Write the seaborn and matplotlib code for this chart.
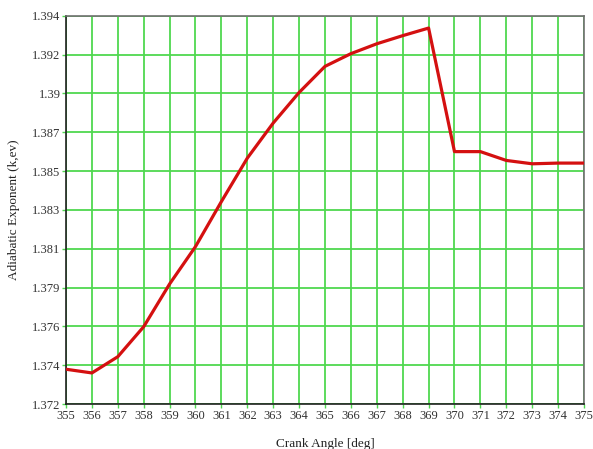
import matplotlib
matplotlib.use("Agg")
import matplotlib.pyplot as plt
import numpy as np
import pandas as pd
import seaborn as sns

# Crank angle samples and adiabatic exponent values
crank_angle = [355, 356, 357, 358, 359, 360, 361, 362, 363, 364, 365,
               366, 367, 368, 369, 370, 371, 372, 373, 374, 375]
kappa = [1.37397, 1.37376, 1.37468, 1.37638, 1.37880, 1.38092, 1.38347,
         1.38593, 1.38792, 1.38965, 1.39113, 1.39185, 1.39241, 1.39287,
         1.39330, 1.38630, 1.38630, 1.38580, 1.38561, 1.38565, 1.38565]

# Axis ticks
x_ticks = list(range(355, 376))
y_min, y_max = 1.372, 1.394
y_tick_labels = ["1.372", "1.374", "1.376", "1.379", "1.381", "1.383",
                 "1.385", "1.387", "1.39", "1.392", "1.394"]

df = pd.DataFrame({"angle": crank_angle, "kappa": kappa})

sns.set_style("white")
plt.rcParams["font.family"] = ["Liberation Serif", "DejaVu Serif"]

fig = plt.figure(figsize=(5.93, 4.49), dpi=100)
ax = fig.add_axes([0.1113, 0.1002, 0.8735, 0.8648])

sns.lineplot(data=df, x="angle", y="kappa", ax=ax, color="#d41010",
             linewidth=2.3, zorder=3)

y_ticks = np.linspace(y_min, y_max, len(y_tick_labels))
ax.set_xlim(355, 375)
ax.set_ylim(y_min, y_max)
ax.set_xticks(x_ticks)
ax.set_xticklabels([str(t) for t in x_ticks])
ax.set_yticks(y_ticks)
ax.set_yticklabels(y_tick_labels)

ax.grid(True, color="#4fd84f", linewidth=1.3, zorder=1)
ax.tick_params(axis="both", which="major", length=3, width=1.0,
               color="#4fd84f", labelsize=9, labelcolor="#333333", pad=1,
               direction="out", left=True, bottom=True)

for side in ["left", "bottom"]:
    ax.spines[side].set_color("#202020")
    ax.spines[side].set_linewidth(1.2)
for side in ["top", "right"]:
    ax.spines[side].set_color("#707070")
    ax.spines[side].set_linewidth(1.2)

ax.set_xlabel("Crank Angle [deg]", fontsize=9.5, color="#222222")
ax.set_ylabel("Adiabatic Exponent (k,ev)", fontsize=9.5, color="#222222")
ax.xaxis.set_label_coords(0.5, -0.088)
ax.yaxis.set_label_coords(-0.089, 0.5)

fig.savefig("out.png", dpi=100)
